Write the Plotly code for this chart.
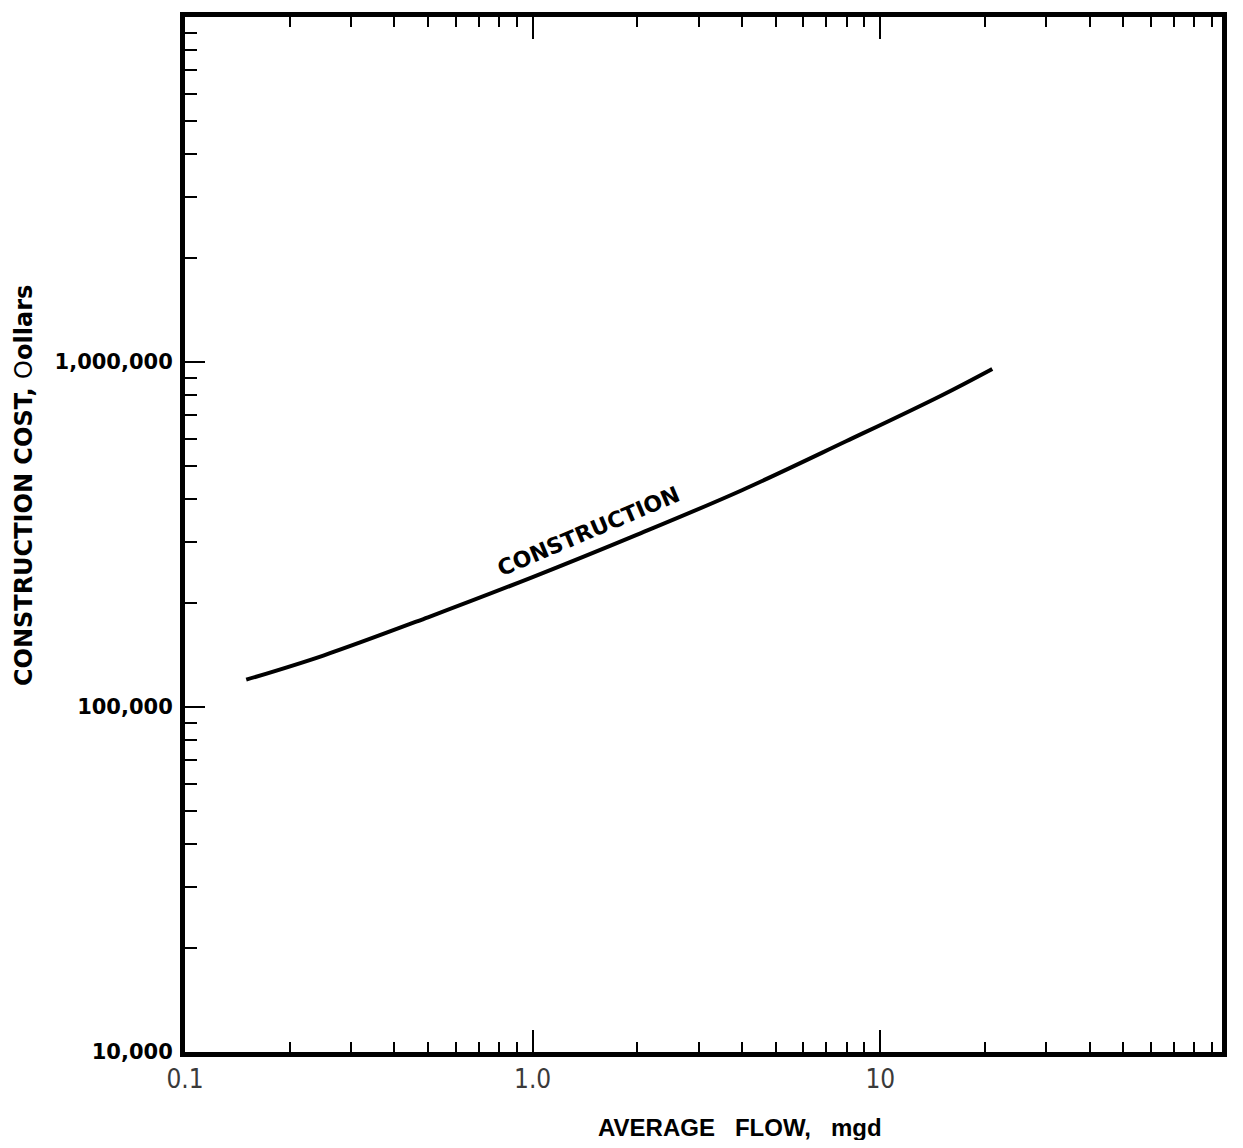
import plotly.graph_objects as go

# ---- data ----
flow_mgd = [0.15, 0.25, 0.50, 1.0, 2.0, 4.0, 8.0, 15.0, 21.0]
construction_cost = [120000, 141000, 182000, 238000, 316000, 425000, 590000, 800000, 955000]

x_major_vals = [0.1, 1.0, 10]
x_major_text = ["0.1", "1.0", "10"]
x_minor_vals = [m * d for d in (0.1, 1, 10) for m in range(2, 10)]

y_major_vals = [1e4, 1e5, 1e6]
y_major_text = ["10,000", "100,000", "1,000,000"]
y_minor_vals = [m * d for d in (1e4, 1e5, 1e6) for m in range(2, 10)]

curve_label = "CONSTRUCTION"
x_title = "AVERAGE\u00a0\u00a0\u00a0FLOW,\u00a0\u00a0\u00a0mgd"
y_title = "<b>CONSTRUCTION COST, </b>O<b>ollars</b>"

fig = go.Figure()
fig.add_trace(go.Scatter(
    x=flow_mgd, y=construction_cost, mode="lines",
    line=dict(color="black", width=4, shape="spline", smoothing=1.0),
    showlegend=False, hoverinfo="skip"))

# page body has an 8px margin; figure sized to fit the 1243x1148 window
fig.update_layout(
    width=1227, height=1132,
    margin=dict(l=177, r=13, t=4, b=88),
    paper_bgcolor="white", plot_bgcolor="white",
    showlegend=False,
)

fig.update_xaxes(
    type="log", range=[-1, 1.983],
    showgrid=False, zeroline=False,
    showline=True, linewidth=5, linecolor="black", mirror="allticks",
    ticks="inside", ticklen=22, tickwidth=2, tickcolor="black",
    tickmode="array", tickvals=x_major_vals, ticktext=x_major_text,
    tickfont=dict(family="Liberation Sans Narrow, DejaVu Sans Condensed, Roboto, sans-serif",
                  size=26, color="#3a3a3a"),
    ticklabelstandoff=0,
    minor=dict(tickmode="array", tickvals=x_minor_vals, ticks="inside",
               ticklen=10, tickwidth=2, tickcolor="black", showgrid=False),
)

fig.update_yaxes(
    type="log", range=[4, 7],
    showgrid=False, zeroline=False,
    showline=True, linewidth=5, linecolor="black", mirror=True,
    ticks="inside", ticklen=20, tickwidth=2, tickcolor="black",
    tickmode="array", tickvals=y_major_vals, ticktext=y_major_text,
    tickfont=dict(family="DejaVu Sans", size=21, color="black", weight="bold"),
    ticklabelstandoff=3,
    minor=dict(tickmode="array", tickvals=y_minor_vals, ticks="inside",
               ticklen=12, tickwidth=2, tickcolor="black", showgrid=False),
)

# curve label placed along the curve
fig.add_annotation(
    x=0.16, y=5.508, xref="x", yref="y",
    text="<b>" + curve_label + "</b>", showarrow=False, textangle=-23,
    font=dict(family="DejaVu Sans", size=22, color="black"),
    xanchor="center", yanchor="middle")

# axis titles
fig.add_annotation(
    x=0.535, y=-0.073, xref="paper", yref="paper",
    text="<b>" + x_title + "</b>", showarrow=False,
    font=dict(family="Liberation Sans, Arial, sans-serif", size=24, color="black"),
    xanchor="center", yanchor="middle")

fig.add_annotation(
    x=-0.155, y=0.547, xref="paper", yref="paper",
    text=y_title, showarrow=False, textangle=-90,
    font=dict(family="DejaVu Sans", size=24, color="black"),
    xanchor="center", yanchor="middle")

fig.write_html("out.html")
